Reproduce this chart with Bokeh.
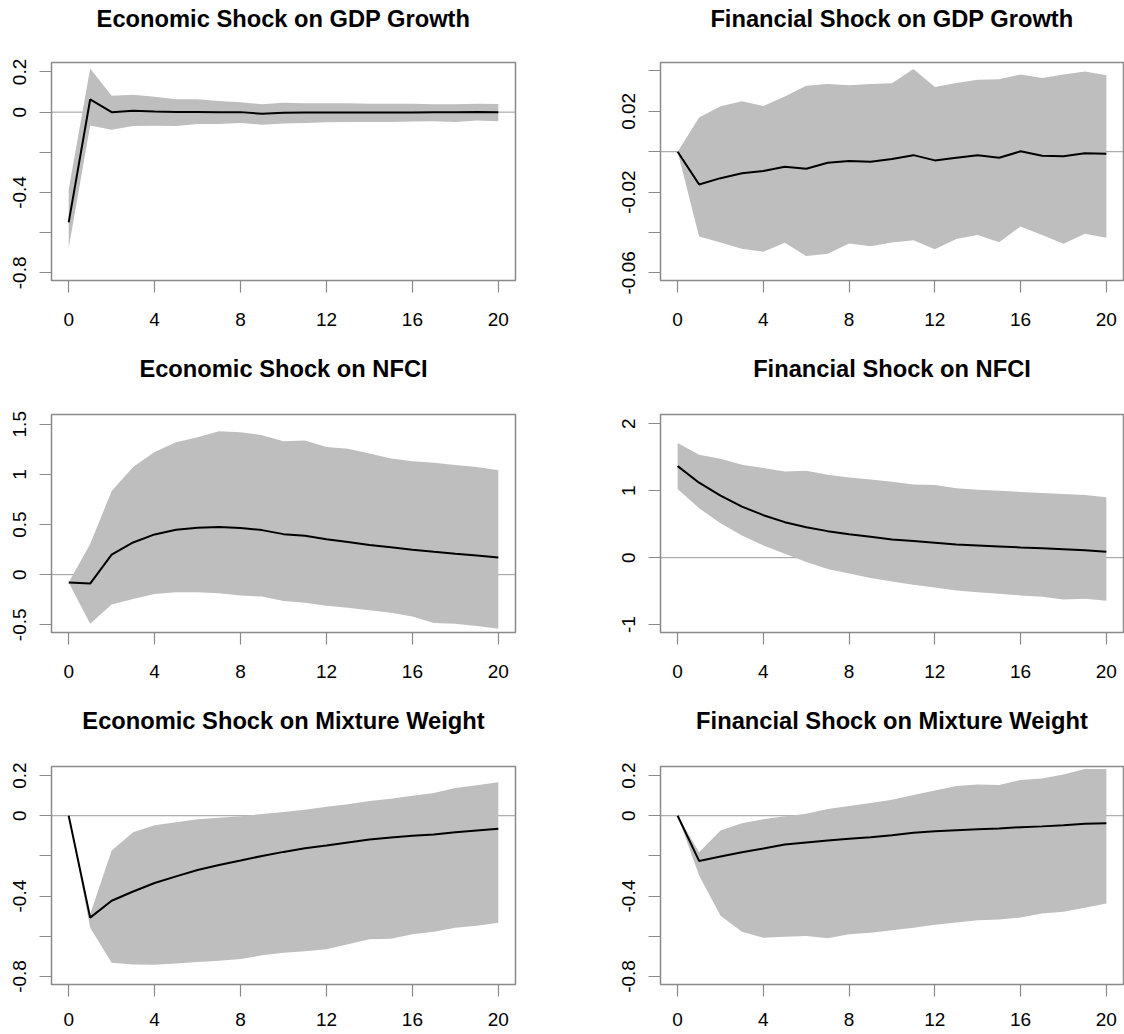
from bokeh.plotting import figure
from bokeh.layouts import column, row
from bokeh.models import Range1d, FixedTicker, Span, LinearAxis
from bokeh.embed import file_html
from bokeh.resources import INLINE

# ---------------- data ----------------
horizon = list(range(21))
x_ticks = [0, 4, 8, 12, 16, 20]

titles = [
    "Economic Shock on GDP Growth", "Financial Shock on GDP Growth",
    "Economic Shock on NFCI", "Financial Shock on NFCI",
    "Economic Shock on Mixture Weight", "Financial Shock on Mixture Weight",
]

econ_gdp_mid = [-0.549, 0.063, 0.0, 0.007, 0.003, 0.001, 0.001, 0.0, 0.0, -0.008, -0.003,
                -0.002, -0.002, -0.002, -0.002, -0.002, -0.002, -0.001, -0.001, 0.001, 0.0]
econ_gdp_hi = [-0.385, 0.217, 0.081, 0.086, 0.076, 0.064, 0.064, 0.056, 0.049, 0.039, 0.047,
               0.044, 0.044, 0.044, 0.042, 0.042, 0.042, 0.039, 0.039, 0.042, 0.041]
econ_gdp_lo = [-0.676, -0.066, -0.088, -0.069, -0.068, -0.069, -0.059, -0.059, -0.054, -0.063, -0.056,
               -0.054, -0.051, -0.049, -0.049, -0.049, -0.047, -0.046, -0.049, -0.042, -0.046]

fin_gdp_mid = [0.0, -0.0162, -0.0131, -0.0107, -0.0096, -0.0074, -0.0084, -0.0055, -0.0046, -0.0050, -0.0036,
               -0.0017, -0.0043, -0.0030, -0.0018, -0.0030, 0.0002, -0.0020, -0.0023, -0.0008, -0.0010]
fin_gdp_hi = [0.0, 0.0170, 0.0225, 0.0250, 0.0226, 0.0274, 0.0327, 0.0336, 0.0329, 0.0336, 0.0339,
              0.0410, 0.0321, 0.0340, 0.0357, 0.0359, 0.0383, 0.0365, 0.0383, 0.0397, 0.0379]
fin_gdp_lo = [0.0, -0.0420, -0.0450, -0.0481, -0.0496, -0.0451, -0.0517, -0.0506, -0.0455, -0.0468, -0.0450,
              -0.0438, -0.0483, -0.0433, -0.0412, -0.0448, -0.0370, -0.0412, -0.0456, -0.0407, -0.0426]

econ_nfci_mid = [-0.079, -0.089, 0.199, 0.321, 0.401, 0.447, 0.467, 0.474, 0.464, 0.444, 0.404,
                 0.387, 0.354, 0.325, 0.295, 0.272, 0.248, 0.228, 0.209, 0.192, 0.172]
econ_nfci_hi = [-0.079, 0.305, 0.834, 1.073, 1.222, 1.321, 1.371, 1.430, 1.421, 1.391, 1.331,
                1.338, 1.272, 1.255, 1.209, 1.159, 1.132, 1.116, 1.093, 1.073, 1.040]
econ_nfci_lo = [-0.079, -0.490, -0.298, -0.242, -0.192, -0.175, -0.175, -0.185, -0.209, -0.219, -0.262,
                -0.281, -0.311, -0.331, -0.354, -0.381, -0.417, -0.483, -0.490, -0.513, -0.540]

fin_nfci_mid = [1.366, 1.119, 0.926, 0.762, 0.634, 0.530, 0.455, 0.396, 0.351, 0.312, 0.272,
                0.248, 0.223, 0.198, 0.183, 0.168, 0.153, 0.139, 0.124, 0.109, 0.089]
fin_nfci_hi = [1.713, 1.535, 1.475, 1.386, 1.337, 1.287, 1.297, 1.238, 1.198, 1.168, 1.134,
               1.094, 1.084, 1.035, 1.015, 1.000, 0.980, 0.965, 0.950, 0.936, 0.901]
fin_nfci_lo = [1.025, 0.738, 0.515, 0.332, 0.183, 0.059, -0.064, -0.168, -0.238, -0.302, -0.356,
               -0.406, -0.446, -0.490, -0.515, -0.540, -0.564, -0.584, -0.624, -0.614, -0.644]

econ_mix_mid = [0.0, -0.507, -0.423, -0.377, -0.335, -0.302, -0.270, -0.245, -0.223, -0.200, -0.180,
                -0.162, -0.148, -0.133, -0.118, -0.108, -0.100, -0.093, -0.082, -0.073, -0.065]
econ_mix_hi = [0.0, -0.490, -0.173, -0.082, -0.048, -0.032, -0.018, -0.010, -0.002, 0.008, 0.018,
               0.030, 0.045, 0.057, 0.073, 0.085, 0.100, 0.113, 0.138, 0.152, 0.167]
econ_mix_lo = [0.0, -0.557, -0.732, -0.740, -0.742, -0.735, -0.728, -0.722, -0.713, -0.695, -0.682,
               -0.675, -0.665, -0.640, -0.615, -0.612, -0.590, -0.578, -0.557, -0.548, -0.533]

fin_mix_mid = [0.0, -0.225, -0.203, -0.182, -0.163, -0.143, -0.133, -0.123, -0.115, -0.107, -0.097,
               -0.085, -0.077, -0.072, -0.067, -0.063, -0.057, -0.053, -0.048, -0.040, -0.037]
fin_mix_hi = [0.0, -0.182, -0.073, -0.037, -0.017, -0.003, 0.010, 0.033, 0.048, 0.063, 0.080,
              0.103, 0.125, 0.148, 0.155, 0.153, 0.178, 0.185, 0.205, 0.232, 0.232]
fin_mix_lo = [0.0, -0.298, -0.498, -0.578, -0.607, -0.602, -0.598, -0.610, -0.590, -0.583, -0.570,
              -0.557, -0.543, -0.532, -0.520, -0.517, -0.507, -0.487, -0.478, -0.458, -0.437]

# y ticks (values) and their printed labels ("" = tick without label)
y_ticks_a = [-0.8, -0.6, -0.4, -0.2, 0, 0.2]
y_labels_a = ["-0.8", "", "-0.4", "", "0", "0.2"]
y_ticks_b = [-0.06, -0.04, -0.02, 0, 0.02, 0.04]
y_labels_b = ["-0.06", "", "-0.02", "", "0.02", ""]
y_ticks_c = [-0.5, 0, 0.5, 1, 1.5]
y_labels_c = ["-0.5", "0", "0.5", "1", "1.5"]
y_ticks_d = [-1, 0, 1, 2]
y_labels_d = ["-1", "0", "1", "2"]

y_limits = [(-0.838, 0.247), (-0.0638, 0.0442), (-0.577, 1.597),
            (-1.117, 2.137), (-0.84, 0.245), (-0.84, 0.245)]

# ---------------- style ----------------
FONT = "Liberation Sans"
BOX = "#8a8a8a"
BAND = "#BEBEBE"
FRAME_H = 218
TOP = 62


def panel(i, mid, lo, hi, yt, yl, left_col, last_row, first_row):
    if left_col:
        w, bl, br = 608, 51, 93
    else:
        w, bl, br = 516, 52, 1
    h = 330 if last_row else 352
    bb = h - TOP - FRAME_H
    y0, y1 = y_limits[i]
    p = figure(width=w, height=h, x_range=Range1d(-0.8, 20.8),
               y_range=Range1d(y0, y1),
               output_backend="svg", toolbar_location=None,
               min_border_left=bl, min_border_right=br,
               min_border_top=TOP, min_border_bottom=bb)
    p.grid.visible = False
    p.background_fill_color = "white"
    p.border_fill_color = "white"
    p.outline_line_color = BOX
    p.outline_line_width = 1.5

    # panel title: label of a tick-less axis above the box
    top_axis = LinearAxis(ticker=FixedTicker(ticks=[]), axis_label=titles[i],
                          axis_line_color=None, major_tick_line_color=None,
                          minor_tick_line_color=None, major_tick_out=0,
                          major_label_standoff=0,
                          axis_label_standoff=31 if first_row else 33,
                          axis_label_text_font=FONT,
                          axis_label_text_font_size="23.7px",
                          axis_label_text_font_style="bold",
                          axis_label_text_color="black")
    p.add_layout(top_axis, "above")

    p.add_layout(Span(location=0, dimension="width", line_color="#9a9a9a",
                      line_width=1, level="underlay"))
    p.varea(x=horizon, y1=lo, y2=hi, fill_color=BAND, fill_alpha=1.0)
    p.line(x=horizon, y=mid, line_color="black", line_width=2)

    for ax in (p.below[0], p.left[0]):
        ax.axis_line_color = None
        ax.major_tick_line_color = BOX
        ax.major_tick_line_width = 1.2
        ax.major_tick_out = 12
        ax.major_tick_in = 0
        ax.minor_tick_line_color = None
        ax.major_label_text_font = FONT
        ax.major_label_text_font_size = "19px"
        ax.major_label_text_color = "black"

    xa = p.below[0]
    xa.ticker = FixedTicker(ticks=x_ticks)
    xa.major_label_standoff = 16 if last_row else 20
    ya = p.left[0]
    ya.ticker = FixedTicker(ticks=yt)
    ya.major_label_overrides = {t: s for t, s in zip(yt, yl)}
    ya.major_label_orientation = "vertical"
    ya.major_label_standoff = 13
    return p


p1 = panel(0, econ_gdp_mid, econ_gdp_lo, econ_gdp_hi, y_ticks_a, y_labels_a, True, False, True)
p2 = panel(1, fin_gdp_mid, fin_gdp_lo, fin_gdp_hi, y_ticks_b, y_labels_b, False, False, True)
p3 = panel(2, econ_nfci_mid, econ_nfci_lo, econ_nfci_hi, y_ticks_c, y_labels_c, True, False, False)
p4 = panel(3, fin_nfci_mid, fin_nfci_lo, fin_nfci_hi, y_ticks_d, y_labels_d, False, False, False)
p5 = panel(4, econ_mix_mid, econ_mix_lo, econ_mix_hi, y_ticks_a, y_labels_a, True, True, False)
p6 = panel(5, fin_mix_mid, fin_mix_lo, fin_mix_hi, y_ticks_a, y_labels_a, False, True, False)

layout = column(row(p1, p2), row(p3, p4), row(p5, p6))
open("out.html", "w").write(file_html(layout, INLINE))
